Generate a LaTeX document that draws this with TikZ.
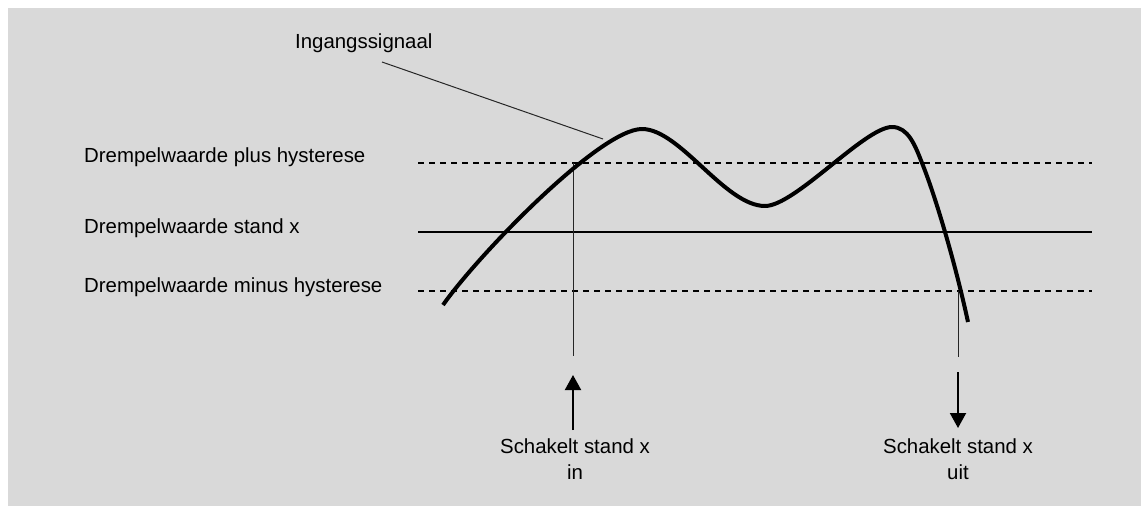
\documentclass[tikz,border=0pt]{standalone}
\usepackage{fontspec}
\setmainfont{Liberation Sans}
\usetikzlibrary{arrows.meta}
\definecolor{bg}{HTML}{D9D9D9}
\begin{document}
\begin{tikzpicture}[x=1pt,y=-1pt,
  lbl/.style={inner sep=0pt, font=\fontsize{20.4}{26}\selectfont, text=black},
  thinln/.style={line width=1pt, draw=black!85},
  dashln/.style={line width=2.4pt, dash pattern=on 6pt off 5pt},
  solidln/.style={line width=2.4pt},
  signal/.style={line width=4pt, line join=round},
  arr/.style={line width=2pt, -{Triangle[width=16pt,length=15pt]}}]
\useasboundingbox (0,0) rectangle (1141,506);
\fill[white] (0,0) rectangle (1141,506);
\fill[bg] (8,8) rectangle (1141,506);

% labels
\node[lbl, anchor=base west] (sig) at (295,48) {Ingangssignaal};
\node[lbl, anchor=base west] (lplus) at (84,162) {Drempelwaarde plus hysterese};
\node[lbl, anchor=base west] (lmid) at (84,233) {Drempelwaarde stand x};
\node[lbl, anchor=base west] (lminus) at (84,292) {Drempelwaarde minus hysterese};
\node[lbl, anchor=base] (inA) at (575,453) {Schakelt stand x};
\node[lbl, anchor=base] (inB) at (575,479) {in};
\node[lbl, anchor=base] (outA) at (958,453) {Schakelt stand x};
\node[lbl, anchor=base] (outB) at (958,479) {uit};

% coordinates
\coordinate (plusL) at (418,163);
\coordinate (plusR) at (1092,163);
\coordinate (midL) at (418,232);
\coordinate (midR) at (1092,232);
\coordinate (minL) at (418,291);
\coordinate (minR) at (1092,291);
\coordinate (sigstart) at (382,62);
\coordinate (sigend) at (603,139);
\coordinate (onTop) at (573,163);
\coordinate (onBot) at (573,356);
\coordinate (offTop) at (958,291);
\coordinate (offBot) at (958,357);
\coordinate (onArrS) at (573,430);
\coordinate (onArrE) at (573,375);
\coordinate (offArrS) at (958,372);
\coordinate (offArrE) at (958,428);

% threshold lines
\draw[dashln] (plusL) -- (plusR);
\draw[solidln] (midL) -- (midR);
\draw[dashln] (minL) -- (minR);

% thin lines
\draw[thinln] (sigstart) -- (sigend);
\draw[thinln] (onTop) -- (onBot);
\draw[thinln] (offTop) -- (offBot);

% signal
\draw[signal] (443,305) .. controls (478,255) and (600,129) .. (642,129)
  .. controls (680,129) and (725,206) .. (765,206)
  .. controls (795,206) and (865,127) .. (892,127)
  .. controls (908,127) and (915,145) .. (922,163)
  .. controls (935,195) and (955,262) .. (968,322);

% arrows
\draw[arr] (onArrS) -- (onArrE);
\draw[arr] (offArrS) -- (offArrE);
\end{tikzpicture}
\end{document}
